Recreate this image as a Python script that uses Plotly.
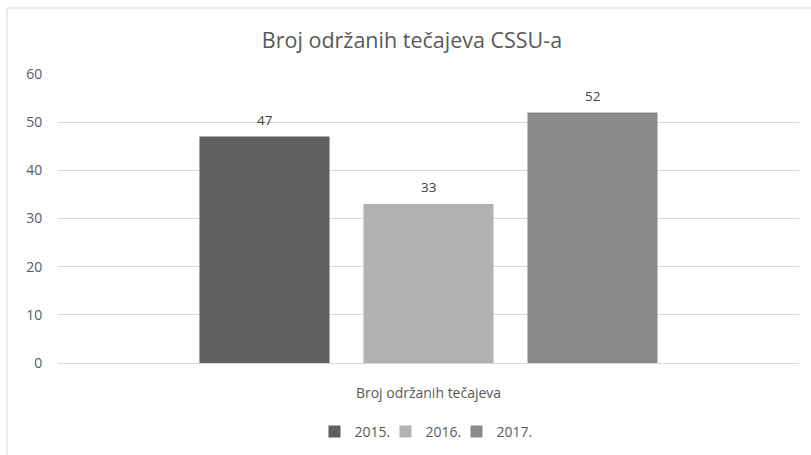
import plotly.graph_objects as go

categories = ["Broj održanih tečajeva"]
years = ["2015.", "2016.", "2017."]
values = [47, 33, 52]
colors = ["#5f5f5f", "#b2b2b2", "#8a8a8a"]

W, H = 811, 455
L, R, T, B = 58, 12, 74, 92
pw, ph = W - L - R, H - T - B
bar_offsets = [-164, 0, 164]  # px offset of each bar in the group

fig = go.Figure()
for y, v, c in zip(years, values, colors):
    fig.add_trace(go.Bar(
        name=y, x=categories, y=[v], marker=dict(color=c, line=dict(width=0)),
    ))
# invisible spacer entry so the last legend label is not clipped
fig.add_trace(go.Scatter(x=[None], y=[None], mode="markers", name=" ",
                         marker=dict(color="rgba(0,0,0,0)"), hoverinfo="skip"))

for v, off in zip(values, bar_offsets):
    fig.add_annotation(x=categories[0], y=v, text=str(v), showarrow=False,
                       xshift=off, yshift=17, yanchor="middle",
                       font=dict(family="Open Sans", size=13.5, color="#404040"))

fig.update_layout(
    width=W, height=H,
    margin=dict(l=L, r=R, t=T, b=B, autoexpand=False),
    paper_bgcolor="white", plot_bgcolor="white",
    barmode="group", bargap=0.336, bargroupgap=0.207,
    font=dict(family="Open Sans", color="#595959", size=14),
    title=dict(text="Broj održanih tečajeva CSSU-a", x=412 / W, xanchor="center",
               y=1 - 40 / H, yanchor="middle",
               font=dict(family="Open Sans", size=21.5, color="#595959")),
    legend=dict(orientation="h", x=(314.5 - L) / pw, xanchor="left",
                y=(363 - 432) / ph, yanchor="middle",
                font=dict(family="Open Sans", size=14, color="#595959"),
                itemwidth=30, entrywidth=26, traceorder="normal"),
    showlegend=True,
)
fig.update_yaxes(range=[0, 60], dtick=10, showgrid=True, gridcolor="#d9d9d9",
                 gridwidth=1, zeroline=True, zerolinecolor="#d9d9d9", zerolinewidth=1,
                 showline=False, ticks="outside", ticklen=12, tickcolor="rgba(0,0,0,0)",
                 automargin=False,
                 tickfont=dict(family="Open Sans", size=14, color="#595959"))
fig.update_xaxes(showline=False, showgrid=False, ticks="outside", ticklen=17,
                 tickcolor="rgba(0,0,0,0)", automargin=False,
                 tickfont=dict(family="Open Sans", size=14, color="#595959"))

fig.add_shape(type="rect", xref="paper", yref="paper",
              x0=(7 - L) / pw, x1=(W + 20 - L) / pw,
              y0=(363 - (H + 20)) / ph, y1=(363 - 8) / ph,
              line=dict(color="#d9d9d9", width=1), fillcolor="rgba(0,0,0,0)", layer="below")

fig.write_html("out.html", config={"displayModeBar": False},
               post_script="document.body.style.margin='0';document.body.style.overflow='hidden';")
